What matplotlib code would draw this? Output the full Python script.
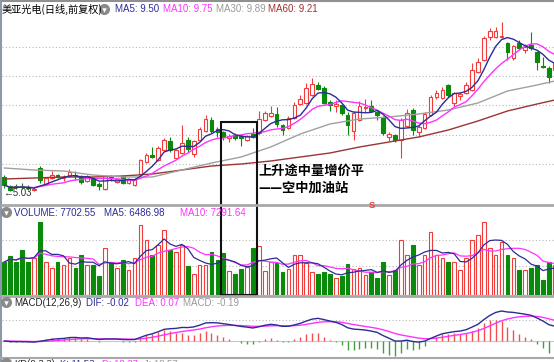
import numpy as np
import pandas as pd
import matplotlib
matplotlib.use("Agg")
import matplotlib.pyplot as plt
from matplotlib.patches import Rectangle

# 日K数据（前复权）
opens = [5.59, 5.23, 5.23, 5.23, 5.19, 5.07, 5.95, 5.31, 5.55, 5.67,
         5.53, 5.63, 5.67, 5.63, 5.43, 5.55, 5.31, 5.11, 5.59, 5.39,
         5.63, 5.35, 5.27, 5.71, 6.19, 6.47, 6.27, 6.67, 7.03, 6.35,
         6.55, 7.07, 6.51, 7.07, 7.43, 7.87, 7.51, 7.39, 7.15, 7.27,
         7.23, 7.07, 7.31, 7.35, 7.87, 8.03, 8.11, 7.67, 7.55, 7.95,
         8.51, 8.55, 8.87, 9.27, 9.15, 8.59, 8.43, 8.47, 8.07, 7.43,
         7.87, 8.35, 8.43, 8.19, 7.95, 7.19, 7.27, 7.07, 7.63, 8.27,
         7.39, 7.55, 8.07, 8.79, 8.75, 9.27, 8.55, 8.83, 8.95, 9.07,
         9.79, 10.27, 11.19, 11.19, 11.19, 10.95, 10.35, 10.95, 10.67, 10.87,
         10.59, 10.03, 9.95, 9.87]
closes = [5.27, 5.07, 5.19, 5.21, 5.15, 5.11, 5.47, 5.55, 5.67, 5.59,
          5.57, 5.79, 5.61, 5.39, 5.63, 5.27, 5.23, 5.63, 5.53, 5.51,
          5.35, 5.47, 5.51, 6.27, 6.47, 6.39, 6.75, 7.07, 6.67, 6.67,
          6.95, 6.71, 7.03, 7.51, 7.91, 7.43, 7.39, 7.19, 7.23, 7.15,
          7.17, 7.23, 7.19, 7.91, 8.15, 8.15, 7.71, 7.47, 7.95, 8.47,
          8.71, 9.15, 9.31, 9.11, 8.55, 8.47, 8.49, 8.15, 7.67, 8.15,
          8.43, 8.39, 8.23, 8.07, 7.35, 7.31, 7.07, 7.87, 8.15, 7.47,
          7.59, 8.11, 8.79, 8.95, 9.07, 8.87, 8.95, 8.91, 9.27, 9.87,
          10.19, 11.15, 11.43, 11.43, 11.23, 10.59, 10.83, 10.75, 10.79, 10.75,
          10.19, 9.99, 9.59, 10.15]
highs = [5.67, 5.27, 5.31, 5.35, 5.27, 5.19, 6.03, 5.59, 5.83, 5.71,
         5.67, 5.91, 5.83, 5.67, 5.67, 5.59, 5.39, 5.67, 5.67, 5.55,
         5.67, 5.51, 5.55, 6.31, 6.55, 6.79, 6.83, 7.15, 7.19, 6.71,
         7.67, 7.19, 7.07, 7.59, 8.07, 7.99, 7.59, 7.43, 7.31, 7.35,
         7.31, 7.27, 7.55, 8.23, 8.23, 8.43, 8.39, 7.71, 8.03, 8.59,
         8.87, 9.35, 9.55, 9.39, 9.23, 8.67, 8.67, 8.51, 8.19, 8.23,
         8.63, 8.71, 8.67, 8.23, 8.03, 7.39, 7.31, 7.95, 8.31, 8.35,
         7.67, 8.19, 8.87, 9.07, 9.19, 9.31, 8.99, 8.99, 9.39, 10.15,
         10.35, 11.23, 11.55, 11.59, 11.79, 10.99, 10.87, 11.07, 10.91, 11.39,
         10.63, 10.39, 10.03, 10.19]
lows = [5.15, 5.03, 5.11, 5.11, 5.07, 5.05, 5.35, 5.27, 5.51, 5.55,
        5.43, 5.59, 5.47, 5.31, 5.39, 5.23, 5.07, 5.07, 5.43, 5.35,
        5.31, 5.31, 5.23, 5.63, 6.15, 6.35, 6.23, 6.63, 6.59, 6.31,
        6.51, 6.59, 6.39, 7.03, 7.39, 7.35, 7.19, 7.07, 6.99, 7.07,
        6.83, 7.03, 7.15, 7.31, 7.83, 7.99, 7.59, 7.27, 7.51, 7.91,
        8.47, 8.51, 8.83, 9.07, 8.51, 8.23, 8.19, 8.07, 7.27, 7.07,
        7.83, 8.19, 8.19, 7.87, 7.27, 7.03, 6.99, 6.35, 7.59, 7.27,
        7.19, 7.51, 8.03, 8.71, 8.71, 8.79, 8.43, 8.67, 8.91, 9.03,
        9.75, 10.23, 11.07, 11.15, 11.15, 10.27, 10.27, 10.67, 10.55, 10.67,
        9.87, 9.95, 9.35, 9.83]
volumes = [6600, 7800, 6600, 9000, 6600, 7400, 14600, 6600, 5400, 6600,
           6000, 7400, 5400, 8000, 6000, 6000, 3800, 9400, 6600, 5400,
           7000, 5000, 7400, 14000, 11000, 8000, 10000, 13000, 9000, 8600,
           10000, 5800, 4200, 6000, 6000, 8600, 7000, 8400, 4800, 4200,
           5200, 5600, 9400, 9800, 4800, 6600, 6400, 4600, 5200, 8000,
           8000, 6400, 4600, 4200, 4600, 4200, 3400, 3800, 6200, 5200,
           5400, 4000, 4600, 3400, 6600, 4000, 5000, 11000, 8000, 10000,
           6000, 8000, 12600, 8000, 7400, 6600, 6600, 5000, 7400, 11000,
           12000, 14600, 9400, 8000, 10600, 8000, 7400, 5000, 5000, 5400,
           6000, 3000, 6600, 6000]

# 长期均线读数（每5根K线取一点）
ma_idx = [0, 5, 10, 15, 20, 25, 30, 35, 40, 45, 50, 55, 60, 65, 70, 75, 80, 85, 90, 93]
ma30 = [5.95, 5.87, 5.83, 5.67, 5.59, 5.59, 5.87, 6.15, 6.39, 6.79,
        7.31, 7.71, 7.91, 7.99, 8.11, 8.27, 8.55, 9.03, 9.27, 9.43]
ma60 = [5.51, 5.55, 5.59, 5.59, 5.63, 5.71, 5.87, 6.03, 6.11, 6.23,
        6.39, 6.55, 6.79, 6.99, 7.19, 7.47, 7.83, 8.23, 8.51, 8.67]

RED = "#f23c3c"
GREEN = "#0a8a0a"
BLUE = "#2c2c96"
MAGENTA = "#ff33ff"
GRAY = "#a0a0a0"
BROWN = "#9c3434"

W, H = 554, 362
plt.rcParams['font.family'] = ['Liberation Sans', 'Noto Sans CJK SC', 'DejaVu Sans']


def box(x0, y0, x1, y1):
    return [x0 / W, 1 - y1 / H, (x1 - x0) / W, (y1 - y0) / H]


def clean(ax):
    ax.set_xticks([])
    ax.set_yticks([])
    for s in ax.spines.values():
        s.set_visible(False)
    ax.set_xlim(-0.39, 92.86)


fig = plt.figure(figsize=(W / 100, H / 100), dpi=100)
ax_p = fig.add_axes(box(2, 17, 554, 204))
ax_v = fig.add_axes(box(2, 206, 554, 295))
ax_m = fig.add_axes(box(2, 297, 554, 357))
for a in (ax_p, ax_v, ax_m):
    clean(a)

o = np.array(opens)
c = np.array(closes)
x = np.arange(len(c))
up = c >= o
col = np.where(up, RED, GREEN)
face = np.where(up, "white", GREEN)

# 主图
ax_p.set_ylim(4.51, 11.99)
for g in [6.11, 7.27, 8.47, 9.63, 10.79]:
    ax_p.axhline(g, color="#b8b8b8", lw=0.8, ls=(0, (1, 2)), zorder=0)
ax_p.vlines(x, lows, highs, colors=col, lw=0.8, zorder=2)
ax_p.bar(x, np.maximum(np.abs(c - o), 0.02), bottom=np.minimum(o, c), width=0.62,
         color=face, edgecolor=col, linewidth=0.8, zorder=3)
cs = pd.Series(c)
ax_p.plot(ma_idx, ma60, color=BROWN, lw=1, zorder=4)
ax_p.plot(ma_idx, ma30, color=GRAY, lw=1, zorder=4)
ax_p.plot(x, cs.rolling(10, min_periods=1).mean(), color=MAGENTA, lw=1, zorder=5)
ax_p.plot(x, cs.rolling(5, min_periods=1).mean(), color=BLUE, lw=1, zorder=5)

# 成交量
v = pd.Series(volumes)
ax_v.set_ylim(0, 17800)
for g in [5800, 11000]:
    ax_v.axhline(g, color="#b8b8b8", lw=0.8, ls=(0, (1, 2)), zorder=0)
ax_v.bar(x, volumes, width=0.62, color=face, edgecolor=col, linewidth=0.8, zorder=2)
ax_v.plot(x, v.rolling(10, min_periods=1).mean(), color=MAGENTA, lw=0.9, zorder=3)
ax_v.plot(x, v.rolling(5, min_periods=1).mean(), color=BLUE, lw=0.9, zorder=3)

# MACD
ema12 = cs.ewm(span=12, adjust=False).mean()
ema26 = cs.ewm(span=26, adjust=False).mean()
dif = ema12 - ema26
dea = dif.ewm(span=9, adjust=False).mean()
hist = 2 * (dif - dea)
s = dif.max() / 30
ax_m.set_ylim(-16 * s, 44 * s)
ax_m.axhline(21 * s, color="#b8b8b8", lw=0.8, ls=(0, (1, 2)), zorder=0)
ax_m.axhline(0, color="#c8c8c8", lw=0.8, zorder=0)
ax_m.vlines(x, 0, hist, colors=np.where(hist >= 0, "#f05050", "#3fa03f"), lw=1, zorder=2)
ax_m.plot(x, dea, color=MAGENTA, lw=1, zorder=3)
ax_m.plot(x, dif, color=BLUE, lw=1, zorder=3)

# 覆盖层：边框、文字、标注
ov = fig.add_axes([0, 0, 1, 1])
ov.set_xlim(0, W)
ov.set_ylim(H, 0)
ov.axis("off")
ov.patch.set_alpha(0)
ov.hlines(0.7, 0, W, color="#909090", lw=1.5)
ov.vlines(0.7, 0, H, color="#8e98a8", lw=1.5)
for yy in (205, 296):
    ov.hlines(yy, 0, W, color="#a8a8a8", lw=2)
ov.hlines(357.5, 0, W, color="#a8a8a8", lw=1.5)


def icon(px, py):
    ov.plot(px, py, marker="o", ms=8, color="#8a8a8a", mec="none")
    ov.plot(px, py + 0.5, marker="v", ms=3.2, color="white", mec="none")


def txt(px, py, t, color, size=7.0, **kw):
    ov.text(px, py, t, color=color, fontsize=size, va="center", ha="left", **kw)


txt(2, 9, "美亚光电(日线,前复权)", "black", size=7.3, family=["Noto Sans CJK SC"])
icon(104, 9)
txt(115, 9.5, "MA5: 9.50", BLUE)
txt(163, 9.5, "MA10: 9.75", MAGENTA)
txt(216, 9.5, "MA30: 9.89", "#999999")
txt(268, 9.5, "MA60: 9.21", "#a03030")

icon(6, 212)
txt(14, 212.5, "VOLUME: 7702.55", BLUE)
txt(104, 212.5, "MA5: 6486.98", BLUE)
txt(180, 212.5, "MA10: 7291.64", MAGENTA)

icon(6, 302)
txt(14, 302.5, "MACD(12,26,9)", "#222222")
txt(86, 302.5, "DIF: -0.02", BLUE)
txt(135, 302.5, "DEA: 0.07", MAGENTA)
txt(183, 302.5, "MACD: -0.19", "#999999")

icon(6, 363)
txt(14, 363, "KD(9,3,3)", "#222222", size=6.8)
txt(60, 363, "K: 11.53", BLUE, size=6.8)
txt(102, 363, "D: 18.27", MAGENTA, size=6.8)
txt(144, 363, "J: 18.57", "#999999", size=6.8)

txt(3, 192.5, "←5.03", "#333333", size=7)

ov.add_patch(Rectangle((220.5, 122), 36.5, 173, fill=False, ec="#111111", lw=1.5))
txt(258, 171, "上升途中量增价平", "black", size=9.5, family=["Noto Sans CJK SC"], weight="bold")
txt(258, 188, "——空中加油站", "black", size=9.5, family=["Noto Sans CJK SC"], weight="bold")
txt(369, 205, "S", RED, size=6.8, weight="bold")

fig.savefig("out.png", dpi=100)
